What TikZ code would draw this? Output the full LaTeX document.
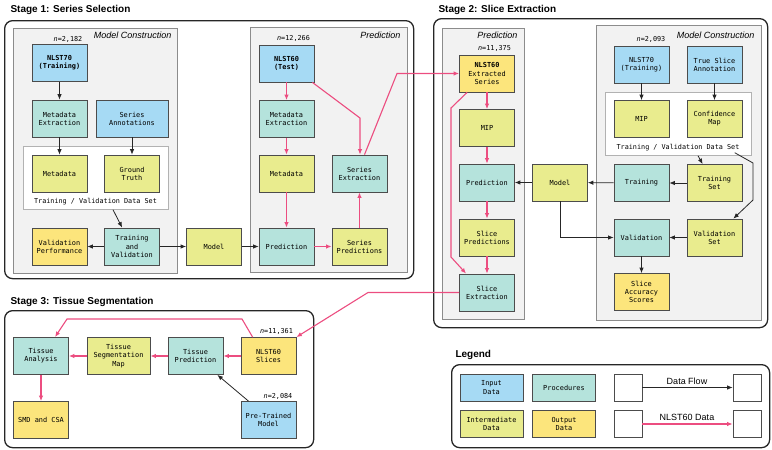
\documentclass[tikz,border=0pt]{standalone}
\usepackage{fontspec}
\setmainfont{Liberation Sans}
\setmonofont{DejaVu Sans Mono}
\usetikzlibrary{arrows.meta,calc}
\definecolor{inblue}{HTML}{A6DAF4}
\definecolor{proc}{HTML}{B5E3DC}
\definecolor{inter}{HTML}{E9EC8E}
\definecolor{outy}{HTML}{FCE57C}
\definecolor{pinkc}{HTML}{EC4D80}
\definecolor{panelg}{HTML}{F2F2F2}
\begin{document}
\begin{tikzpicture}[x=1pt,y=-1pt,
  box/.style={draw=black!70, line width=0.75pt, minimum width=55pt, minimum height=37pt, inner sep=1pt, align=center, font=\ttfamily\fontsize{6.9}{8.1}\selectfont},
  inp/.style={box, fill=inblue},
  prc/.style={box, fill=proc},
  itm/.style={box, fill=inter},
  outp/.style={box, fill=outy},
  panel/.style={draw=black!45, fill=panelg, line width=0.7pt, anchor=north west, inner sep=0pt},
  dspanel/.style={draw=black!30, fill=white, line width=0.7pt, anchor=north west, inner sep=0pt},
  stagebox/.style={draw=black!85, line width=1.3pt, rounded corners=8pt, anchor=north west, inner sep=0pt},
  stitle/.style={anchor=west, font=\bfseries\fontsize{10}{12}\selectfont},
  plabel/.style={anchor=east, font=\itshape\fontsize{9}{11}\selectfont},
  nlabel/.style={font=\ttfamily\fontsize{6.8}{8}\selectfont},
  dslabel/.style={font=\ttfamily\fontsize{6.8}{8}\selectfont},
  blk/.style={draw=black!85, line width=0.8pt, -{Latex[length=5.5pt,width=4.5pt]}},
  pk/.style={draw=pinkc, line width=1.1pt, -{Latex[length=5.5pt,width=4.5pt]}},
  sq/.style={draw=black!70, line width=0.7pt, fill=white, minimum width=28pt, minimum height=27pt, inner sep=0pt},
  leg/.style={box, minimum width=63pt, minimum height=27pt}
]
\useasboundingbox (0,0) rectangle (772,450);

% ---------- Stage 1 ----------
\node[stitle] (t1) at (7,10) {Stage 1: Series Selection};
\node[stagebox, minimum width=409pt, minimum height=258pt] (st1) at (4,20) {};
\node[panel, minimum width=164pt, minimum height=245pt] (mc1) at (13,28) {};
\node[panel, minimum width=157pt, minimum height=245pt] (pr1) at (250,27) {};
\node[dspanel, minimum width=145pt, minimum height=63pt] (ds1) at (23,146) {};
\node[dslabel] (ds1l) at (95.5,202) {Training / Validation Data Set};
\node[plabel] (mc1l) at (175,35) {Model Construction};
\node[plabel] (pr1l) at (404,35) {Prediction};
\node[nlabel] (n1) at (68,39) {\textit{n}=2,182};
\node[nlabel] (n2) at (293.5,38) {\textit{n}=12,266};

\node[inp] (s1nlst70) at (59.5,63) {\textbf{NLST70}\\\textbf{(Training)}};
\node[prc] (s1mex) at (59.5,118.5) {Metadata\\Extraction};
\node[inp, minimum width=72pt] (s1ann) at (132,118.5) {Series\\Annotations};
\node[itm] (s1meta) at (59.5,173.5) {Metadata};
\node[itm] (s1gt) at (132,173.5) {Ground\\Truth};
\node[outp] (s1vp) at (59.5,246.5) {Validation\\Performance};
\node[prc] (s1tv) at (132,246.5) {Training\\and\\Validation};
\node[itm] (s1model) at (214,246.5) {Model};
\node[inp] (s1nlst60) at (286.5,63.5) {\textbf{NLST60}\\\textbf{(Test)}};
\node[prc] (s1mex2) at (286.5,119) {Metadata\\Extraction};
\node[itm] (s1meta2) at (286.5,173.5) {Metadata};
\node[prc] (s1pred) at (286.5,246.5) {Prediction};
\node[prc] (s1sex) at (359.5,173.5) {Series\\Extraction};
\node[itm] (s1sp) at (359.5,246.5) {Series\\Predictions};

% ---------- Stage 2 ----------
\node[stitle] (t2) at (435,10) {Stage 2: Slice Extraction};
\node[stagebox, minimum width=334pt, minimum height=309pt] (st2) at (433,18) {};
\node[panel, minimum width=82pt, minimum height=291pt] (pr2) at (442,28) {};
\node[panel, minimum width=165pt, minimum height=295pt] (mc2) at (596,25) {};
\node[dspanel, minimum width=146pt, minimum height=63pt] (ds2) at (605,92) {};
\node[dslabel] (ds2l) at (678,148) {Training / Validation Data Set};
\node[plabel] (pr2l) at (521,35) {Prediction};
\node[plabel] (mc2l) at (758,35) {Model Construction};
\node[nlabel] (n3) at (494.5,48) {\textit{n}=11,375};
\node[nlabel] (n4) at (651,39) {\textit{n}=2,093};

\node[outp] (s2nes) at (487,73.5) {\textbf{NLST60}\\Extracted\\Series};
\node[itm] (s2mip) at (487,128) {MIP};
\node[prc] (s2pred) at (487,182.5) {Prediction};
\node[itm] (s2sp) at (487,237.5) {Slice\\Predictions};
\node[prc] (s2se) at (487,292.5) {Slice\\Extraction};
\node[itm] (s2model) at (560,182.5) {Model};
\node[inp] (s2nlst70) at (641.5,64.5) {NLST70\\(Training)};
\node[inp] (s2tsa) at (714.5,64.5) {True Slice\\Annotation};
\node[itm] (s2mip2) at (641.5,119) {MIP};
\node[itm] (s2cm) at (714.5,119) {Confidence\\Map};
\node[prc] (s2train) at (641.5,183) {Training};
\node[itm] (s2ts) at (714.5,183) {Training\\Set};
\node[prc] (s2val) at (641.5,237.5) {Validation};
\node[itm] (s2vs) at (714.5,237.5) {Validation\\Set};
\node[outp] (s2sas) at (641.5,292) {Slice\\Accuracy\\Scores};

% ---------- Stage 3 ----------
\node[stitle] (t3) at (7,302) {Stage 3: Tissue Segmentation};
\node[stagebox, minimum width=309pt, minimum height=137pt] (st3) at (4,310) {};
\node[nlabel] (n5) at (276.5,331) {\textit{n}=11,361};
\node[nlabel] (n6) at (278,396) {\textit{n}=2,084};
\node[prc] (s3ta) at (41,356) {Tissue\\Analysis};
\node[itm, minimum width=63pt] (s3tsm) at (118.5,356) {Tissue\\Segmentation\\Map};
\node[prc] (s3tp) at (195.5,356) {Tissue\\Prediction};
\node[outp] (s3ns) at (268.5,356) {NLST60\\Slices};
\node[outp] (s3smd) at (41,420) {SMD and CSA};
\node[inp] (s3ptm) at (268.5,420) {Pre-Trained\\Model};

% ---------- Legend ----------
\node[stitle] (t4) at (452,355) {Legend};
\node[stagebox, minimum width=318pt, minimum height=83pt] (lg) at (451,364) {};
\node[leg, fill=inblue] (lin) at (491.5,387.5) {Input\\Data};
\node[leg, fill=proc] (lproc) at (564,387.5) {Procedures};
\node[leg, fill=inter] (lint) at (491.5,424) {Intermediate\\Data};
\node[leg, fill=outy] (lout) at (564,424) {Output\\Data};
\node[sq] (sq1) at (628,387.5) {};
\node[sq] (sq2) at (747,387.5) {};
\node[sq] (sq3) at (628,424) {};
\node[sq] (sq4) at (747,424) {};
\node[font=\fontsize{9}{11}\selectfont] (ldf) at (687,381) {Data Flow};
\node[font=\fontsize{9}{11}\selectfont] (lnd) at (687,417) {NLST60 Data};
\draw[blk] (sq1) -- (sq2);
\draw[pk] (sq3) -- (sq4);

% ---------- Stage 1 connectors ----------
\draw[blk] (s1nlst70) -- (s1mex);
\draw[blk] (s1mex) -- (s1meta);
\draw[blk] (s1ann) -- (s1gt);
\draw[blk] ($(ds1.south west)+(90,0)$) -- ($(s1tv.north west)+(18,0)$);
\draw[blk] (s1tv) -- (s1vp);
\draw[blk] (s1tv) -- (s1model);
\draw[blk] (s1model) -- (s1pred);

\draw[pk] (s1nlst60) -- (s1mex2);
\draw[pk] (s1mex2) -- (s1meta2);
\draw[pk] (s1meta2) -- (s1pred);
\draw[pk] (s1pred) -- (s1sp);
\draw[pk] (s1sp) -- (s1sex);
\coordinate (b1) at (360,118);
\draw[pk] ($(s1nlst60.south east)+(-2,0)$) -- (b1) -- (b1 |- s1sex.north);
\coordinate (b2) at (397,73.5);
\draw[pk] ($(s1sex.north)+(5,0)$) -- (b2) -- (s2nes.west);

% ---------- Stage 2 connectors ----------
\draw[pk] (s2nes) -- (s2mip);
\draw[pk] (s2mip) -- (s2pred);
\draw[pk] (s2pred) -- (s2sp);
\draw[pk] (s2sp) -- (s2se);
\coordinate (c1) at (451,108);
\coordinate (c2) at (451,257);
\draw[pk] ($(s2nes.south west)+(8,0)$) -- (c1) -- (c2) -- ($(s2se.north west)+(7,0)$);
\coordinate (c3) at (368,292.5);
\draw[pk] (s2se.west) -- (c3) -- (s3ns.north east);

\draw[blk] (s2model) -- (s2pred);
\draw[blk] (s2train) -- (s2model);
\draw[blk] (s2nlst70) -- (s2mip2);
\draw[blk] (s2tsa) -- (s2cm);
\draw[blk] (s2ts) -- (s2train);
\draw[blk] (s2vs) -- (s2val);
\draw[blk] (s2val) -- (s2sas);
\draw[blk] (s2model.south) -- (s2model.south |- s2val.west) -- (s2val.west);
\draw[blk] ($(ds2.south west)+(93,0)$) -- ($(s2ts.north west)+(16,0)$);
\coordinate (d1) at (753,163);
\coordinate (d2) at (753,200);
\draw[blk] ($(ds2.south east)+(-17,-3)$) -- (d1) -- (d2) -- ($(s2vs.north east)+(-9,0)$);

% ---------- Stage 3 connectors ----------
\draw[pk] (s3ns) -- (s3tp);
\draw[pk] (s3tp) -- (s3tsm);
\draw[pk] (s3tsm) -- (s3ta);
\draw[pk] (s3ta) -- (s3smd);
\coordinate (e1) at (242,319);
\coordinate (e2) at (67,319);
\draw[pk] ($(s3ns.north west)+(12,0)$) -- (e1) -- (e2) -- ($(s3ta.north)+(14,0)$);
\draw[blk] ($(s3ptm.north)+(-20,0)$) -- ($(s3tp.south east)+(-6,0)$);
\end{tikzpicture}
\end{document}
